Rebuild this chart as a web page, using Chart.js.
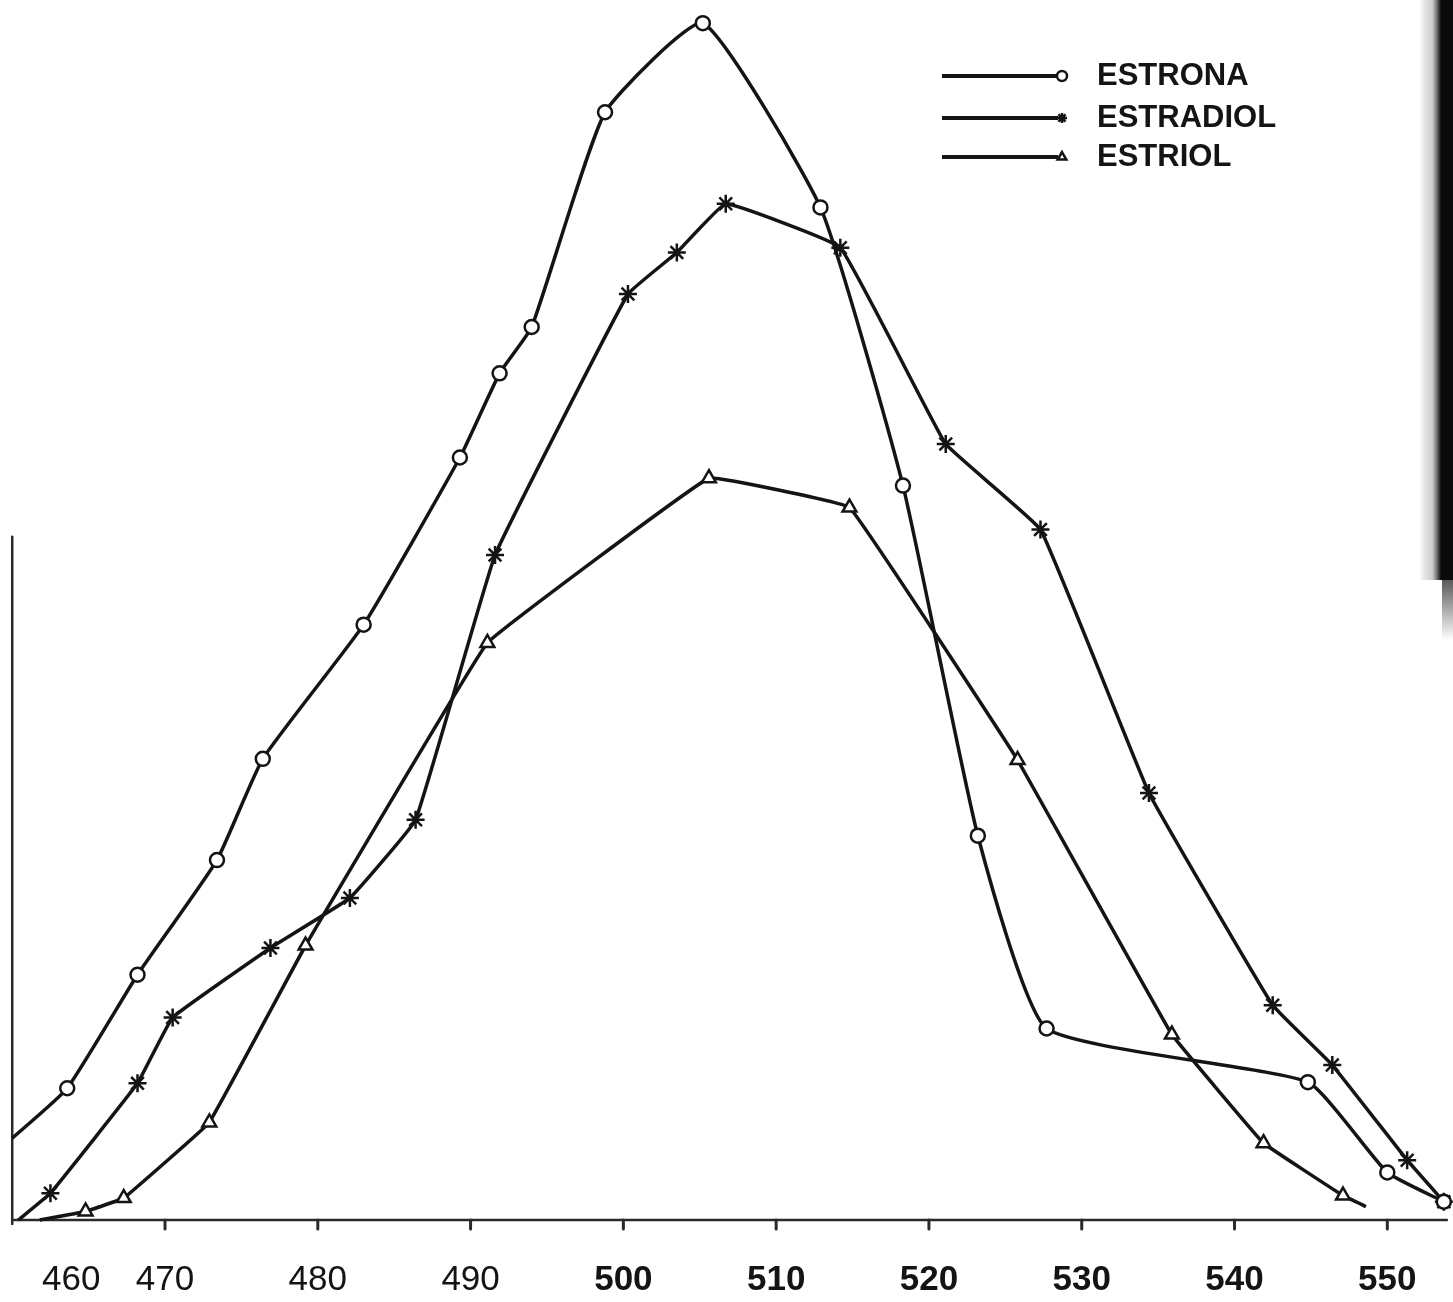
<!DOCTYPE html>
<html>
<head>
<meta charset="utf-8">
<script src="https://cdn.jsdelivr.net/npm/chart.js@4.4.1/dist/chart.umd.min.js"></script>
<style>
  html, body { margin: 0; padding: 0; background: #fff; overflow: hidden; }
  canvas { display: block; }
</style>
</head>
<body>
<canvas id="chart" width="1453" height="1302"></canvas>
<script>
// ===============================
// DATA (wavelength nm / absorbance)
// ===============================
const estronaNm  = [460.0, 463.6, 468.2, 473.4, 476.4, 483.0, 489.3, 491.9, 494.0, 498.8, 505.2, 512.9, 518.3, 523.2, 527.7, 544.8, 550.0, 553.7];
const estronaAbs = [0.067, 0.108, 0.201, 0.295, 0.378, 0.488, 0.625, 0.694, 0.732, 0.908, 0.981, 0.830, 0.602, 0.315, 0.157, 0.113, 0.039, 0.015];

const estradiolNm  = [460.4, 462.5, 468.2, 470.5, 476.9, 482.1, 486.4, 491.6, 500.3, 503.5, 506.7, 514.2, 521.1, 527.3, 534.4, 542.5, 546.4, 551.3, 553.7];
const estradiolAbs = [0.000, 0.022, 0.112, 0.166, 0.223, 0.264, 0.328, 0.545, 0.759, 0.793, 0.833, 0.797, 0.636, 0.566, 0.350, 0.176, 0.127, 0.049, 0.015];

const estriolNm  = [461.8, 464.8, 467.3, 472.9, 479.2, 491.1, 505.6, 514.8, 525.8, 535.9, 541.9, 547.1, 548.6];
const estriolAbs = [0.000, 0.007, 0.018, 0.080, 0.225, 0.473, 0.608, 0.584, 0.377, 0.152, 0.063, 0.020, 0.011];

const tickNm     = [460, 470, 480, 490, 500, 510, 520, 530, 540, 550];
const tickLabels = ["460", "470", "480", "490", "500", "510", "520", "530", "540", "550"];

const seriesNames = ["ESTRONA", "ESTRADIOL", "ESTRIOL"];

const INK = "#141414";

function toPoints(xs, ys) {
    return xs.map((x, i) => ({ x, y: ys[i] }));
}

// first point of each trace is where the pen starts on the axis: no marker
function markerRadii(n, r, lastHidden) {
    return Array.from({ length: n }, (_, i) => (i === 0 || (lastHidden && i === n - 1)) ? 0 : r);
}

// ===============================
// HAND-DRAWN AXES, TICKS, LEGEND
// ===============================
const paperPlugin = {
    id: "paper",
    beforeDraw(chart) {
        const ctx = chart.ctx;
        const W = chart.width;
        ctx.save();
        ctx.fillStyle = "#fff";
        ctx.fillRect(0, 0, W, chart.height);
        // dark scan edge on the right
        const g = ctx.createLinearGradient(W - 34, 0, W - 12, 0);
        g.addColorStop(0, "rgba(0,0,0,0)");
        g.addColorStop(0.6, "rgba(60,60,60,0.25)");
        g.addColorStop(1, "rgba(10,10,10,1)");
        ctx.fillStyle = g;
        ctx.fillRect(W - 34, 0, 34, 580);
        // fade out at the lower end
        const g2 = ctx.createLinearGradient(0, 560, 0, 640);
        g2.addColorStop(0, "rgba(10,10,10,0.9)");
        g2.addColorStop(1, "rgba(10,10,10,0)");
        ctx.fillStyle = g2;
        ctx.fillRect(W - 11, 560, 11, 80);
        ctx.restore();
    },
    beforeDatasetsDraw(chart) {
        const { ctx, scales: { x, y } } = chart;
        const y0 = y.getPixelForValue(0);
        const xAxis = x.getPixelForValue(460);
        ctx.save();
        ctx.strokeStyle = "#2a2a2a";
        ctx.lineCap = "round";

        // baseline
        ctx.lineWidth = 2.5;
        ctx.beginPath();
        ctx.moveTo(xAxis, y0);
        ctx.lineTo(x.getPixelForValue(553.9), y0);
        ctx.stroke();

        // left axis (only lower part survived on the sheet)
        ctx.beginPath();
        ctx.moveTo(xAxis, y.getPixelForValue(0.56));
        ctx.lineTo(xAxis, y0 + 4);
        ctx.stroke();

        // tick marks
        ctx.lineWidth = 3;
        tickNm.forEach(v => {
            if (v === 460) return;
            const px = x.getPixelForValue(v);
            ctx.beginPath();
            ctx.moveTo(px, y0);
            ctx.lineTo(px, y0 + 9);
            ctx.stroke();
        });

        // tick labels
        ctx.fillStyle = INK;
        ctx.textBaseline = "middle";
        tickNm.forEach((v, i) => {
            ctx.font = (v >= 500 ? "bold " : "") + "35px 'Liberation Sans', Arial, sans-serif";
            const w = ctx.measureText(tickLabels[i]).width;
            let px = x.getPixelForValue(v);
            px = Math.max(px, 42 + w / 2);
            ctx.textAlign = "center";
            ctx.fillText(tickLabels[i], px, y0 + 60);
        });
        ctx.restore();
    },
    afterDraw(chart) {
        const ctx = chart.ctx;
        const styles = ["circle", "star", "triangle"];
        const rows = [76, 118, 157];
        ctx.save();
        rows.forEach((ry, i) => {
            ctx.strokeStyle = INK;
            ctx.fillStyle = "#fff";
            ctx.lineWidth = 4;
            ctx.beginPath();
            ctx.moveTo(942, ry);
            ctx.lineTo(1058, ry);
            ctx.stroke();
            ctx.lineWidth = 2.5;
            Chart.helpers.drawPoint(ctx, { pointStyle: styles[i], radius: 5, borderWidth: 2.5 }, 1062, ry);
            ctx.fillStyle = INK;
            ctx.font = "bold 31px 'Liberation Sans', Arial, sans-serif";
            ctx.textAlign = "left";
            ctx.textBaseline = "middle";
            ctx.fillText(seriesNames[i], 1097, ry);
        });
        ctx.restore();
    }
};

// ===============================
// CHART
// ===============================
function traceDataset(label, xs, ys, style, radius, lastHidden, tension) {
    return {
        label,
        data: toPoints(xs, ys),
        borderColor: INK,
        borderWidth: 3.5,
        tension,
        pointStyle: style,
        pointRadius: markerRadii(xs.length, radius, lastHidden),
        pointBorderWidth: 2.5,
        pointBorderColor: INK,
        pointBackgroundColor: "#fff",
        fill: false,
        clip: false
    };
}

new Chart(document.getElementById("chart"), {
    type: "line",
    data: {
        datasets: [
            traceDataset(seriesNames[0], estronaNm, estronaAbs, "circle", 7, false, 0.15),
            traceDataset(seriesNames[1], estradiolNm, estradiolAbs, "star", 9, false, 0.08),
            traceDataset(seriesNames[2], estriolNm, estriolAbs, "triangle", 8, true, 0.05)
        ]
    },
    options: {
        responsive: false,
        animation: false,
        layout: { autoPadding: false, padding: { left: 0, right: 0, top: 0, bottom: 82 } },
        plugins: {
            legend: { display: false },
            tooltip: { enabled: false }
        },
        scales: {
            x: { type: "linear", min: 459.2, max: 554.3, display: false },
            y: { min: 0, max: 1.0, display: false }
        }
    },
    plugins: [paperPlugin]
});
</script>
</body>
</html>
